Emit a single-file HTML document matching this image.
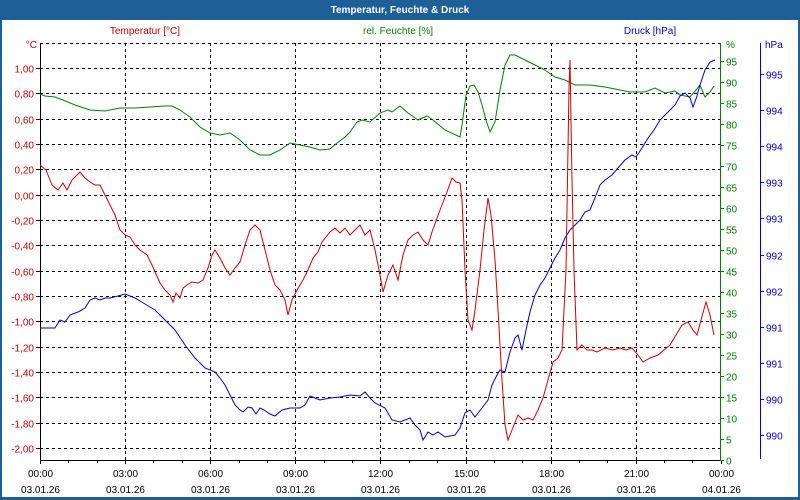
<!DOCTYPE html>
<html><head><meta charset="utf-8"><style>
html,body{margin:0;padding:0;background:#fff}
svg{display:block;font-family:"Liberation Sans",sans-serif}
</style></head><body>
<svg id="s" width="800" height="500" viewBox="0 0 800 500" xmlns="http://www.w3.org/2000/svg">
<rect x="0" y="0" width="800" height="500" fill="#1f5f98"/>
<rect x="2" y="20" width="796" height="477" fill="#fff"/>
<text x="400" y="13" font-size="10" font-weight="bold" fill="#fff" text-anchor="middle">Temperatur, Feuchte &amp; Druck</text>
<text x="145" y="34" font-size="10" fill="#c00000" text-anchor="middle">Temperatur [°C]</text>
<text x="398" y="34" font-size="10" fill="#008000" text-anchor="middle">rel. Feuchte [%]</text>
<text x="650" y="34" font-size="10" fill="#0000c0" text-anchor="middle">Druck [hPa]</text>
<g id="g"></g>
<polyline fill="none" stroke="#008000" stroke-width="1" points="40,94 45,96 55,97 63,100 75,105 90,110 105,111 120,108 135,108 150,107 165,106 172,106 180,110 190,117 200,127 210,133 220,135 230,133 240,140 250,150 260,155 270,155 280,150 290,143 300,145 310,147 320,150 330,149 337,143 345,137 350,132 357,122 362,120 370,122 380,113 388,110 392,112 400,106 408,113 418,120 427,116 433,120 445,130 460,137 462,125 466,95 470,86 474,85 478,92 482,105 486,120 490,132 495,122 500,90 505,65 510,55 515,55 525,60 535,65 545,70 555,77 565,80 575,85 590,85 605,87 620,90 630,92 645,92 655,88 665,93 670,92 675,91 680,95 690,97 696,90 700,85 705,97 710,92 714,86"/>
<polyline fill="none" stroke="#0000d0" stroke-width="1" points="40,328 50,328 55,328 60,320 65,322 70,315 78,312 85,308 90,300 95,298 100,300 105,298 110,298 118,296 125,294 130,296 135,298 145,304 155,310 165,320 175,330 185,345 195,358 205,368 215,372 220,378 225,385 230,395 235,405 240,410 243,412 248,407 252,408 256,414 260,408 264,410 270,414 275,416 282,410 290,408 300,408 305,405 310,396 315,398 320,400 330,398 340,397 350,395 360,396 365,392 370,398 375,403 385,408 392,420 400,422 410,418 415,425 420,430 423,440 428,432 433,435 438,432 445,437 455,435 460,428 465,413 470,410 475,417 482,408 488,400 492,385 497,375 500,370 505,372 510,352 515,338 518,335 522,350 526,330 530,312 535,295 540,285 545,278 550,268 555,258 560,250 565,238 570,230 575,225 580,220 585,212 590,210 595,198 600,185 605,180 612,175 618,168 625,160 632,155 636,157 642,148 648,138 654,130 660,120 665,115 670,110 675,105 680,96 685,93 690,98 693,107 697,96 700,85 705,70 710,62 715,60"/>
<polyline fill="none" stroke="#d00000" stroke-width="1" points="40,165 46,170 52,185 58,190 63,183 67,190 72,180 80,172 85,178 90,182 95,185 100,185 105,195 110,205 115,215 120,230 125,235 130,237 135,245 140,250 147,255 152,265 160,283 165,290 170,295 173,302 176,293 180,298 183,288 187,285 192,282 198,283 203,280 208,268 212,255 215,250 220,258 225,268 230,275 235,268 240,262 245,245 250,230 255,225 260,230 265,250 270,270 275,285 280,290 285,300 288,315 292,300 297,290 303,280 308,270 313,258 318,252 322,242 330,232 335,228 340,233 345,228 350,235 355,230 360,225 365,235 370,230 375,250 380,275 383,292 388,275 393,265 398,280 403,255 408,240 413,235 418,232 423,240 428,245 432,232 437,218 442,205 447,192 452,178 456,182 460,183 462,200 465,270 468,320 472,330 475,310 480,270 484,230 488,198 491,215 495,260 498,310 502,380 505,425 508,440 512,430 518,415 523,420 528,418 533,420 538,410 543,398 548,380 553,362 558,358 562,350 566,270 569,88 570,60 572,180 574,270 577,350 582,345 587,350 592,350 597,352 605,348 613,350 620,348 626,350 632,348 638,355 643,362 650,358 658,355 664,350 670,345 676,335 682,325 688,322 693,330 697,335 701,320 706,302 710,315 714,335"/>
</svg>
<script>
var g=document.getElementById('g'),h='';
var L=40,R=720,T=43,B=460;
function ln(x1,y1,x2,y2,c,d){h+='<line x1="'+x1+'" y1="'+y1+'" x2="'+x2+'" y2="'+y2+'" stroke="'+c+'" stroke-width="1"'+(d?' stroke-dasharray="3,3"':'')+'/>';}
function tx(x,y,t,c,a){h+='<text x="'+x+'" y="'+y+'" font-size="10" fill="'+c+'" text-anchor="'+a+'">'+t+'</text>';}
var tv=['1,00','0,80','0,60','0,40','0,20','0,00','-0,20','-0,40','-0,60','-0,80','-1,00','-1,20','-1,40','-1,60','-1,80','-2,00'];
ln(L,T+0.5,R,T+0.5,'#000',true);
for(var i=0;i<tv.length;i++){var y=Math.round(68+i*25.33)+0.5;ln(L,y,R,y,'#000',true);ln(36,y,L,y,'#000');tx(34,y+4,tv[i],'#d00000','end');}
tx(37,48,'°C','#d00000','end');
var tm=['00:00','03:00','06:00','09:00','12:00','15:00','18:00','21:00','00:00'];
for(var k=0;k<9;k++){var x=Math.round(40+k*85.1)+0.5;if(k>0&&k<8)ln(x,T,x,B,'#000',true);ln(x,B,x,B+4,'#000');
 tx(x,477,tm[k],'#000','middle');tx(x,493,k==8?'04.01.26':'03.01.26','#000','middle');
 if(k<8){for(var m=1;m<3;m++){var xm=Math.round(40+k*85.1+m*28.37)+0.5;ln(xm,B,xm,B+3,'#000');}}}
ln(L+0.5,T,L+0.5,B+1,'#000');ln(L,B+0.5,R,B+0.5,'#000');
ln(720.5,T,720.5,B+1,'#008000');
for(var v=0;v<=95;v+=5){var y=Math.round(460-v/5*21)+0.5;ln(720,y,724,y,'#008000');tx(726,y+4,v,'#008000','start');}
tx(726,48,'%','#008000','start');
ln(760.5,T,760.5,B-1,'#0000d0');
var pv=['995','994','994','993','993','992','992','991','991','990','990'];
for(var j=0;j<pv.length;j++){var y=Math.round(74+j*36.1)+0.5;ln(760,y,764,y,'#0000d0');tx(766,y+4,pv[j],'#0000d0','start');}
tx(765,48,'hPa','#0000d0','start');
g.innerHTML=h;
</script>
</body></html>
